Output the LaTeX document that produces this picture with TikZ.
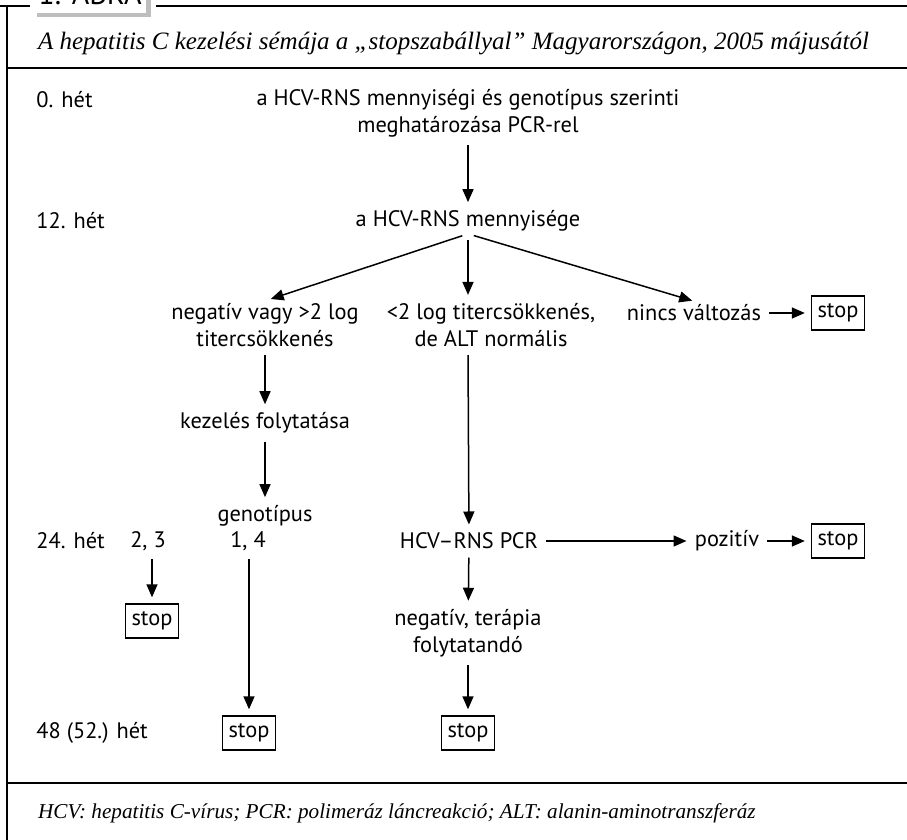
\documentclass[tikz,border=0pt]{standalone}
\usepackage{fontspec}
\setmainfont{Liberation Serif}
\setsansfont{PT Sans}
\usetikzlibrary{arrows.meta}
\definecolor{tabshadow}{RGB}{190,190,190}
\tikzset{
  txt/.style={font=\sffamily\fontsize{11.2}{13.5}\selectfont, align=center, inner sep=1pt},
  week/.style={txt, anchor=west},
  stopbox/.style={txt, draw, line width=0.7pt, minimum width=26.5pt, minimum height=17pt},
  arr/.style={-{Triangle[length=6.5pt,width=5.5pt]}, line width=0.75pt, shorten <=3pt, shorten >=3pt},
  frame/.style={line width=1pt},
}
\begin{document}
\begin{tikzpicture}[x=0.5pt, y=-0.5pt]
\useasboundingbox (0,0) rectangle (907,840);
\clip (0,0) rectangle (907,840);

% keret
\draw[frame] (0,6) -- (30,6);
\draw[frame] (156,6) -- (907,6);
\draw[frame] (7,6) -- (7,840);
\draw[frame] (7,68) -- (907,68);
\draw[frame] (7,783) -- (907,783);

% fül
\fill[tabshadow] (37,-10) rectangle (151,17);
\fill[white] (33,-10) rectangle (146,13);
\node[anchor=base, font=\sffamily\fontsize{15}{15}\selectfont] (tab) at (90,5) {1. ÁBRA};

% cím és lábjegyzet
\node[anchor=base west, font=\itshape\fontsize{12.5}{12.5}\selectfont] (title) at (31,50)
  {A hepatitis C kezelési sémája a „stopszabállyal” Magyarországon, 2005 májusától};
\node[anchor=base west, font=\itshape\fontsize{10.6}{10.6}\selectfont] (foot) at (31,818)
  {HCV: hepatitis C-vírus; PCR: polimeráz láncreakció; ALT: alanin-aminotranszferáz};

% hetek
\node[week] (w0) at (34,100) {0. hét};
\node[week] (w12) at (34,221) {12. hét};
\node[week] (w24) at (34,541) {24. hét};
\node[week] (w48) at (34,733) {48 (52.) hét};

% lépések
\node[txt] (meas) at (468,113) {a HCV-RNS mennyiségi és genotípus szerinti\\meghatározása PCR-rel};
\node[txt] (amount) at (468,221) {a HCV-RNS mennyisége};
\node[txt] (neg) at (265,325) {negatív vagy >2 log\\titercsökkenés};
\node[txt] (less) at (491,325) {<2 log titercsökkenés,\\de ALT normális};
\node[txt] (none) at (694,313) {nincs változás};
\node[stopbox] (stop1) at (838,313) {stop};
\node[txt] (cont) at (265,423) {kezelés folytatása};
\node[txt] (geno) at (265,516) {genotípus};
\node[txt] (g23) at (148,541) {2, 3};
\node[txt] (g14) at (248,541) {1, 4};
\node[stopbox] (stop2) at (152,621) {stop};
\node[stopbox] (stop3) at (249,733) {stop};
\node[txt] (pcr) at (469,541) {HCV–RNS PCR};
\node[txt] (pos) at (727,541) {pozitív};
\node[stopbox] (stop4) at (838,541) {stop};
\node[txt] (negt) at (468,633) {negatív, terápia\\folytatandó};
\node[stopbox] (stop5) at (468,733) {stop};

% nyilak
\draw[arr] (meas) -- (amount);
\draw[arr] (amount.south) -- (neg.north);
\draw[arr] (amount.south) -- (amount |- less.north);
\draw[arr] (amount.south) -- ([xshift=2pt]none.north);
\draw[arr] (none) -- (stop1);
\draw[arr] (neg) -- (cont);
\draw[arr] (cont) -- (geno);
\draw[arr] (g23.south -| stop2) -- (stop2);
\draw[arr] (g14.south -| stop3) -- (stop3);
\draw[arr] (amount |- less.south) -- (pcr);
\draw[arr] (pcr) -- (pos);
\draw[arr] (pos) -- (stop4);
\draw[arr] (pcr) -- (negt);
\draw[arr] (negt) -- (stop5);
\end{tikzpicture}
\end{document}
